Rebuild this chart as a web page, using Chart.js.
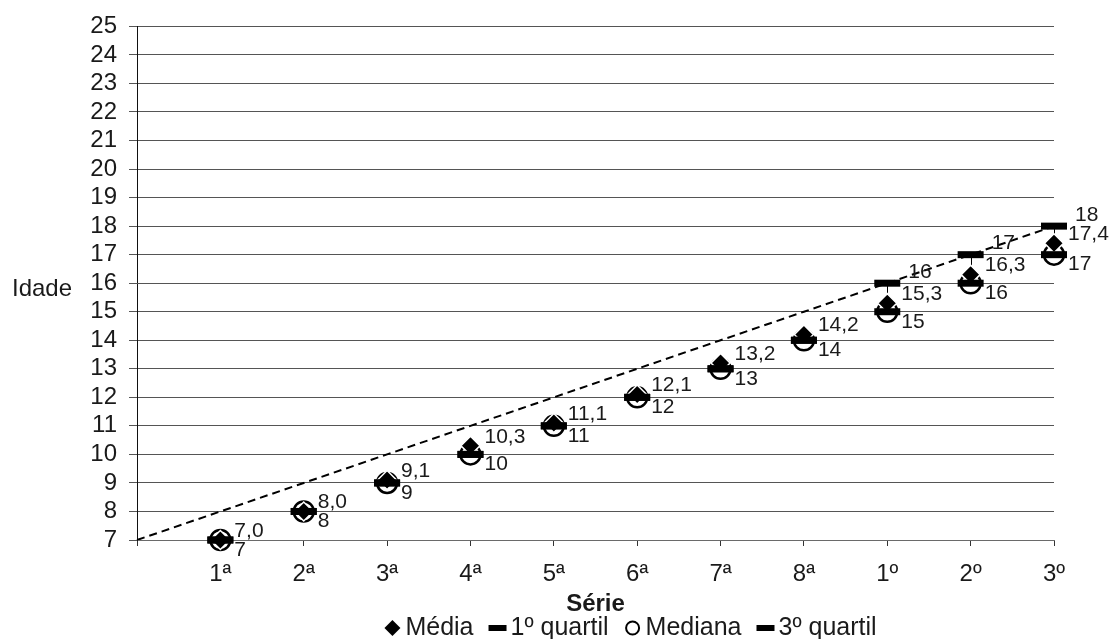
<!DOCTYPE html>
<html>
<head>
<meta charset="utf-8">
<script src="https://cdn.jsdelivr.net/npm/chart.js@4"></script>
<style>
  html, body { margin: 0; padding: 0; background: #fff; }
  #wrap { width: 1111px; height: 639px; position: relative; }
</style>
</head>
<body>
<div id="wrap"><canvas id="c" width="1111" height="639"></canvas></div>
<script>
// ---- data ----
const categories = ['', '1ª', '2ª', '3ª', '4ª', '5ª', '6ª', '7ª', '8ª', '1º', '2º', '3º'];
const seriesNames = ['Média', '1º quartil', 'Mediana', '3º quartil'];
const media    = [7.0, 8.0, 9.1, 10.3, 11.1, 12.1, 13.2, 14.2, 15.3, 16.3, 17.4];
const quartil1 = [7, 8, 9, 10, 11, 12, 13, 14, 15, 16, 17];
const mediana  = [7, 8, 9, 10, 11, 12, 13, 14, 15, 16, 17];
const quartil3 = [7, 8, 9, 10, 11, 12, 13, 14, 16, 17, 18];
const idadeEsperada = [7, 8, 9, 10, 11, 12, 13, 14, 15, 16, 17, 18];
const yTicksMin = 7, yTicksMax = 25;
const yTitle = 'Idade', xTitle = 'Série';

const FONT = 'Arial, "Liberation Sans", Helvetica, sans-serif';
const TXT = '#1a1a1a';

const pad = arr => [null].concat(arr);

// high-low lines + data labels + titles + legend
const customPlugin = {
  id: 'custom',
  beforeDatasetsDraw(chart) {
    const ctx = chart.ctx, x = chart.scales.x, y = chart.scales.y;
    ctx.save();
    ctx.strokeStyle = '#000';
    ctx.lineWidth = 1;
    for (let i = 0; i < media.length; i++) {
      const vals = [media[i], quartil1[i], mediana[i], quartil3[i]];
      const hi = Math.max(...vals), lo = Math.min(...vals);
      if (hi === lo) continue;
      const px = Math.round(x.getPixelForValue(i + 1)) + 0.5;
      ctx.beginPath();
      ctx.moveTo(px, y.getPixelForValue(hi));
      ctx.lineTo(px, y.getPixelForValue(lo));
      ctx.stroke();
    }
    ctx.restore();
  },
  afterDatasetsDraw(chart) {
    const ctx = chart.ctx, x = chart.scales.x, y = chart.scales.y;
    ctx.save();
    ctx.fillStyle = TXT;
    ctx.font = '21px ' + FONT;
    ctx.textAlign = 'left';
    ctx.textBaseline = 'middle';
    for (let i = 0; i < media.length; i++) {
      const px = x.getPixelForValue(i + 1);
      ctx.fillText(media[i].toFixed(1).replace('.', ','), px + 14, y.getPixelForValue(media[i]) - 9);
      ctx.fillText(String(mediana[i]), px + 14, y.getPixelForValue(mediana[i]) + 10);
      if (quartil3[i] !== mediana[i]) {
        ctx.fillText(String(quartil3[i]), px + 21, y.getPixelForValue(quartil3[i]) - 11);
      }
    }
    ctx.restore();
  },
  afterDraw(chart) {
    const ctx = chart.ctx, area = chart.chartArea, y = chart.scales.y;
    ctx.save();
    ctx.fillStyle = TXT;
    // y title (horizontal)
    ctx.font = '24px ' + FONT;
    ctx.textAlign = 'left';
    ctx.textBaseline = 'middle';
    ctx.fillText(yTitle, 12, (y.getPixelForValue(16) + y.getPixelForValue(15.5)) / 2 - 1);
    // x title
    ctx.font = 'bold 24px ' + FONT;
    ctx.textAlign = 'center';
    ctx.fillText(xTitle, (area.left + area.right) / 2, 604);
    // legend
    ctx.font = '25px ' + FONT;
    ctx.textAlign = 'left';
    const mk = 16, gapMk = 5, gapItem = 16;
    const widths = seriesNames.map(n => ctx.measureText(n).width);
    const total = widths.reduce((a, b) => a + b, 0) + seriesNames.length * (mk + gapMk) + (seriesNames.length - 1) * gapItem;
    let cx = (area.left + area.right) / 2 - total / 2 + 35;
    const cy = 628;
    seriesNames.forEach((n, i) => {
      const mx = cx + mk / 2;
      ctx.fillStyle = '#000';
      ctx.strokeStyle = '#000';
      if (i === 0) {
        ctx.beginPath();
        ctx.moveTo(mx, cy - 8); ctx.lineTo(mx + 8, cy); ctx.lineTo(mx, cy + 8); ctx.lineTo(mx - 8, cy);
        ctx.closePath(); ctx.fill();
      } else if (i === 2) {
        ctx.lineWidth = 2;
        ctx.beginPath(); ctx.arc(mx, cy, 6.5, 0, Math.PI * 2); ctx.stroke();
      } else {
        ctx.fillRect(mx - 9, cy - 3, 18, 6);
      }
      ctx.fillStyle = TXT;
      ctx.fillText(n, cx + mk + gapMk, cy);
      cx += mk + gapMk + widths[i] + gapItem;
    });
    ctx.restore();
  }
};

new Chart(document.getElementById('c'), {
  type: 'line',
  data: {
    labels: categories,
    datasets: [
      { label: seriesNames[3], data: pad(quartil3), showLine: false, order: 0, clip: false,
        pointStyle: 'line', pointRadius: 13, pointHoverRadius: 13, borderWidth: 7, pointBorderWidth: 7,
        borderColor: '#000', backgroundColor: '#000' },
      { label: seriesNames[1], data: pad(quartil1), showLine: false, order: 1, clip: false,
        pointStyle: 'line', pointRadius: 13, pointHoverRadius: 13, borderWidth: 7, pointBorderWidth: 7,
        borderColor: '#000', backgroundColor: '#000' },
      { label: seriesNames[0], data: pad(media), showLine: false, order: 2, clip: false,
        pointStyle: 'rectRot', pointRadius: 9.5, pointHoverRadius: 9.5, pointBorderWidth: 1.5,
        borderColor: '#fff', backgroundColor: '#000' },
      { label: seriesNames[2], data: pad(mediana), showLine: false, order: 3, clip: false,
        pointStyle: 'circle', pointRadius: 10, pointHoverRadius: 10, pointBorderWidth: 2.5,
        borderColor: '#000', backgroundColor: '#fff' },
      { label: 'ref', data: idadeEsperada, order: 4,
        borderColor: '#000', borderWidth: 2, borderDash: [8, 5], pointRadius: 0, tension: 0, fill: false }
    ]
  },
  options: {
    responsive: false,
    animation: false,
    events: [],
    layout: { padding: { left: 0, right: 57, top: 25, bottom: 0 } },
    plugins: { legend: { display: false }, tooltip: { enabled: false } },
    scales: {
      x: {
        type: 'category',
        offset: false,
        afterFit(s) { s.height = 99; },
        grid: { drawOnChartArea: false, drawTicks: true, tickLength: 6, color: '#333', lineWidth: 1 },
        border: { display: true, color: '#6a6a6a', width: 1 },
        ticks: { color: TXT, font: { family: FONT, size: 24 }, padding: 14, autoSkip: false, maxRotation: 0 }
      },
      y: {
        type: 'linear',
        min: yTicksMin, max: yTicksMax,
        afterFit(s) { s.width = 137; },
        grid: { color: '#555', lineWidth: 1, tickLength: 8, drawTicks: true },
        border: { display: true, color: '#111', width: 1 },
        ticks: { stepSize: 1, autoSkip: false, color: TXT, font: { family: FONT, size: 24 }, padding: 12 }
      }
    }
  },
  plugins: [customPlugin]
});
</script>
</body>
</html>
